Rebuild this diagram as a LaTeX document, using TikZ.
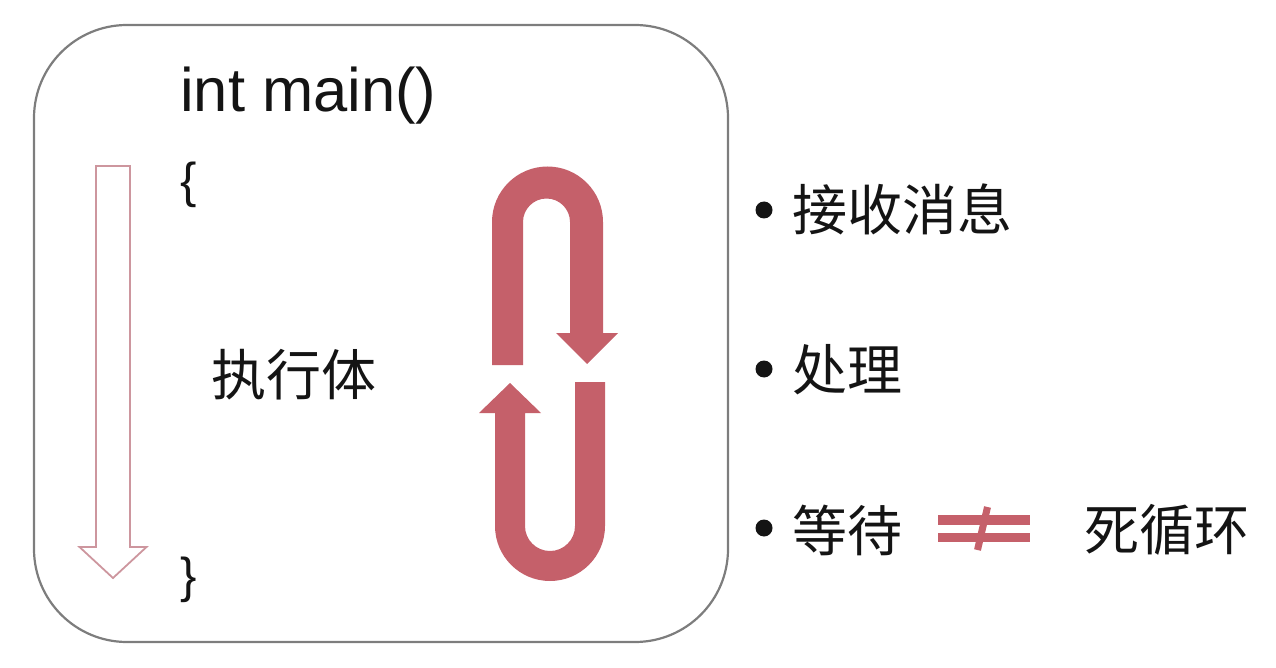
\documentclass[tikz,border=0pt]{standalone}
\usepackage{fontspec}
\setmainfont{Liberation Sans}
\newfontfamily\cjk{Noto Sans CJK SC}
\definecolor{loopred}{RGB}{197,96,106}
\definecolor{arrowpink}{RGB}{205,150,158}
\definecolor{boxgray}{RGB}{125,125,125}
\definecolor{txt}{RGB}{20,20,20}
\tikzset{
  code/.style={inner sep=0pt, text=txt, font=\fontsize{61.5}{72}\selectfont},
  brace/.style={inner sep=0pt, text=txt, font=\fontsize{49}{60}\selectfont},
  cn/.style={inner sep=0pt, text=txt, anchor=west, font=\cjk\fontsize{55}{66}\selectfont},
  bulletdot/.style={fill=txt, draw=none},
  loopfill/.style={fill=loopred, draw=none},
}
\begin{document}
\begin{tikzpicture}[x=1pt,y=-1pt]
\useasboundingbox (0,0) rectangle (1276,668);
% outer rounded box
\draw[boxgray, line width=2.2pt, rounded corners=93pt] (34,25) rectangle (728,642);
% texts
\node[code, anchor=base west] (main) at (180,112) {int main()};
\node[brace] (lb) at (189,185) {\{};
\node[brace] (rb) at (189,580) {\}};
\node[cn] (body) at (211,375) {执行体};
% downward hollow arrow
\draw[arrowpink, line width=1.8pt, line join=miter]
  (96,166) -- (130,166) -- (130,547) -- (146.5,547) -- (113,578) -- (79.5,547) -- (96,547) -- cycle;
% upper loop arrow
\fill[loopfill]
  (492,365) -- (492,222) arc[start angle=180, end angle=360, radius=55.5]
  -- (603,333) -- (618,333) -- (587,364) -- (556,333) -- (570,333)
  -- (570,222) arc[start angle=360, end angle=180, radius=23.5]
  -- (523,365) -- cycle;
% lower loop arrow
\fill[loopfill]
  (605,382) -- (605,526) arc[start angle=0, end angle=180, radius=55]
  -- (495,413) -- (479,413) -- (510,383) -- (541,413) -- (525,413)
  -- (525,526) arc[start angle=180, end angle=0, radius=25]
  -- (575,382) -- cycle;
% bullets
\fill[bulletdot] (764,210) circle[radius=8.5];
\fill[bulletdot] (764,369) circle[radius=8.5];
\fill[bulletdot] (764,528) circle[radius=8.5];
\node[cn] (recv) at (792,209) {接收消息};
\node[cn] (proc) at (792,370) {处理};
\node[cn] (wait) at (792,530) {等待};
\node[cn] (loop) at (1084,530) {死循环};
% not-equal sign
\fill[loopfill] (938,515) rectangle (1030,524.5);
\fill[loopfill] (938,532.5) rectangle (1030,542);
\draw[loopred, line width=7pt] (987.5,507) -- (977.5,550);
\end{tikzpicture}
\end{document}
